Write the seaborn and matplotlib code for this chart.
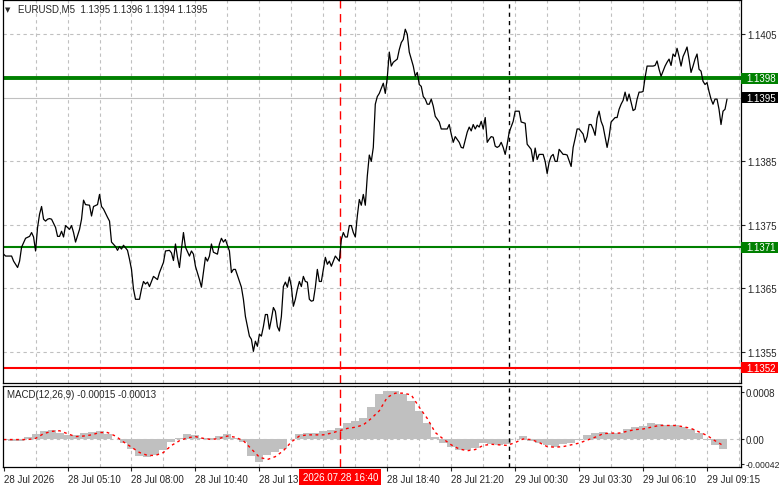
import matplotlib
matplotlib.use("Agg")
import matplotlib.pyplot as plt
import matplotlib.transforms as mtransforms
from matplotlib.patches import Rectangle
import seaborn as sns
import pandas as pd

# EURUSD M5 closes, bar index -> price
price_bar = [
    0, 1, 3, 4, 5, 7, 8, 9, 11, 13,
    14, 15, 16, 17, 18, 19, 20, 21, 22, 23,
    24, 26, 27, 28, 29, 30, 31, 33, 34, 35,
    36, 38, 39, 40, 41, 43, 44, 45, 47, 48,
    49, 50, 52, 53, 54, 56, 57, 58, 59, 60,
    62, 63, 64, 65, 66, 68, 69, 70, 71, 72,
    73, 74, 75, 77, 78, 80, 81, 83, 84, 85,
    86, 87, 88, 89, 90, 91, 93, 94, 95, 96,
    98, 99, 100, 101, 102, 103, 104, 105, 107, 108,
    109, 110, 111, 113, 114, 115, 116, 118, 119, 120,
    121, 123, 124, 125, 126, 127, 128, 129, 130, 131,
    132, 133, 134, 135, 136, 137, 138, 139, 140, 141,
    142, 143, 144, 145, 146, 147, 148, 149, 150, 151,
    152, 153, 154, 155, 156, 157, 158, 159, 160, 161,
    162, 163, 164, 165, 166, 168, 169, 170, 171, 172,
    173, 174, 175, 176, 177, 178, 179, 180, 181, 182,
    183, 184, 185, 186, 187, 188, 189, 190, 191, 192,
    193, 194, 195, 197, 198, 199, 200, 201, 202, 203,
    205, 206, 207, 208, 209, 210, 211, 212, 213, 214,
    215, 216, 218, 219, 220, 222, 223, 224, 225, 226,
    228, 229, 230, 232, 233, 234, 235, 236, 237, 238,
    239, 240, 241, 242, 243, 244, 245, 246, 247, 248,
    249, 250, 251, 252, 253, 255, 256, 258, 259, 261,
    262, 264, 265, 266, 267, 268, 270, 271, 272, 273,
    274, 275, 276, 277, 278, 280, 281, 282, 284, 285,
    286, 287, 288, 290, 291, 292, 293, 294, 295, 296,
    297, 298, 299, 300, 302, 303, 304, 306, 307, 308,
    309, 310, 311, 312, 313, 314, 315, 316, 317, 318,
    319, 320, 321, 322, 323, 325, 326, 327, 328, 329,
    330, 331, 332, 333, 334, 335, 336, 337, 338, 339,
    340, 341, 342, 343, 344, 345, 346, 347, 348, 349,
    350, 351, 352, 353, 354, 355, 356, 357, 358, 359,
    360, 361, 362,
]
price_close = [
    1.13704, 1.13701, 1.13701, 1.13701, 1.13693, 1.13683, 1.13693, 1.13715, 1.13729, 1.13732,
    1.13738, 1.13731, 1.13709, 1.13746, 1.13767, 1.13779, 1.13759, 1.13756, 1.13759, 1.13760,
    1.13759, 1.13746, 1.13732, 1.13732, 1.13740, 1.13731, 1.13749, 1.13743, 1.13749, 1.13738,
    1.13723, 1.13743, 1.13759, 1.13789, 1.13782, 1.13781, 1.13764, 1.13779, 1.13782, 1.13798,
    1.13779, 1.13775, 1.13762, 1.13756, 1.13723, 1.13716, 1.13710, 1.13716, 1.13712, 1.13718,
    1.13710, 1.13696, 1.13680, 1.13649, 1.13633, 1.13633, 1.13649, 1.13661, 1.13657, 1.13660,
    1.13653, 1.13661, 1.13669, 1.13664, 1.13675, 1.13691, 1.13709, 1.13710, 1.13706, 1.13694,
    1.13720, 1.13699, 1.13683, 1.13712, 1.13738, 1.13715, 1.13701, 1.13709, 1.13704, 1.13685,
    1.13664, 1.13652, 1.13675, 1.13699, 1.13693, 1.13701, 1.13720, 1.13707, 1.13704, 1.13720,
    1.13729, 1.13723, 1.13727, 1.13709, 1.13675, 1.13680, 1.13680, 1.13661, 1.13652, 1.13633,
    1.13606, 1.13575, 1.13570, 1.13551, 1.13567, 1.13559, 1.13578, 1.13575, 1.13590, 1.13609,
    1.13609, 1.13586, 1.13602, 1.13620, 1.13614, 1.13590, 1.13583, 1.13606, 1.13653, 1.13660,
    1.13652, 1.13668, 1.13653, 1.13622, 1.13633, 1.13649, 1.13661, 1.13653, 1.13669, 1.13661,
    1.13660, 1.13633, 1.13630, 1.13631, 1.13652, 1.13680, 1.13661, 1.13661, 1.13680, 1.13699,
    1.13688, 1.13693, 1.13685, 1.13693, 1.13701, 1.13693, 1.13727, 1.13738, 1.13731, 1.13731,
    1.13749, 1.13749, 1.13738, 1.13731, 1.13764, 1.13790, 1.13781, 1.13798, 1.13781, 1.13827,
    1.13860, 1.13850, 1.13872, 1.13940, 1.13952, 1.13957, 1.13965, 1.13973, 1.13957, 1.13982,
    1.14022, 1.14000, 1.14006, 1.14011, 1.14026, 1.14037, 1.14042, 1.14058, 1.14050, 1.14022,
    1.14000, 1.13984, 1.13990, 1.13971, 1.13968, 1.13952, 1.13948, 1.13940, 1.13940, 1.13948,
    1.13937, 1.13921, 1.13912, 1.13901, 1.13901, 1.13901, 1.13908, 1.13893, 1.13880, 1.13889,
    1.13880, 1.13872, 1.13871, 1.13896, 1.13904, 1.13898, 1.13908, 1.13901, 1.13907, 1.13904,
    1.13913, 1.13901, 1.13919, 1.13880, 1.13885, 1.13889, 1.13888, 1.13874, 1.13872, 1.13874,
    1.13880, 1.13872, 1.13861, 1.13877, 1.13896, 1.13913, 1.13929, 1.13929, 1.13912, 1.13910,
    1.13877, 1.13869, 1.13850, 1.13871, 1.13853, 1.13861, 1.13861, 1.13850, 1.13831, 1.13849,
    1.13858, 1.13861, 1.13850, 1.13850, 1.13869, 1.13861, 1.13861, 1.13860, 1.13842, 1.13872,
    1.13886, 1.13901, 1.13901, 1.13893, 1.13880, 1.13889, 1.13908, 1.13908, 1.13901, 1.13891,
    1.13918, 1.13929, 1.13913, 1.13905, 1.13872, 1.13889, 1.13912, 1.13919, 1.13919, 1.13932,
    1.13940, 1.13946, 1.13959, 1.13945, 1.13956, 1.13943, 1.13930, 1.13932, 1.13948, 1.13959,
    1.13959, 1.13960, 1.13982, 1.14000, 1.14000, 1.14000, 1.14001, 1.14008, 1.13995, 1.13984,
    1.13992, 1.14000, 1.14006, 1.14011, 1.14001, 1.14019, 1.14015, 1.14028, 1.14015, 1.14000,
    1.14015, 1.14022, 1.14030, 1.14011, 1.13990, 1.14000, 1.14011, 1.14019, 1.13995, 1.13992,
    1.13976, 1.13971, 1.13974, 1.13960, 1.13948, 1.13940, 1.13948, 1.13948, 1.13932, 1.13908,
    1.13929, 1.13932, 1.13948,
]

# MACD(12,26,9), read every 4th bar
macd_bar = list(range(0, 361, 4))
macd_hist = [
    -0.00001, -0.00003, -0.00003, 0.00003, 0.00009, 0.00014, 0.00015, 0.00010, 0.00007, 0.00006,
    0.00010, 0.00012, 0.00013, 0.00009, 0.0, -0.00006, -0.00017, -0.00029, -0.00031, -0.00028,
    -0.00018, -0.00005, 0.00002, 0.00009, 0.00006, 0.00001, 0.00002, 0.00005, 0.00008, 0.00002,
    -0.00005, -0.00029, -0.00040, -0.00028, -0.00022, -0.00017, 0.0, 0.00008, 0.00010, 0.00010,
    0.00014, 0.00016, 0.00018, 0.00028, 0.00030, 0.00035, 0.00054, 0.00077, 0.00082, 0.00081,
    0.00077, 0.00065, 0.00048, 0.00028, 0.00003, -0.00007, -0.00014, -0.00018, -0.00019, -0.00015,
    -0.00006, -0.00009, -0.00010, -0.00009, 0.0, 0.00005, -0.00003, -0.00006, -0.00011, -0.00013,
    -0.00009, -0.00006, -0.00002, 0.00006, 0.00010, 0.00012, 0.00010, 0.00011, 0.00017, 0.00020,
    0.00022, 0.00027, 0.00026, 0.00023, 0.00023, 0.00021, 0.00017, 0.00010, -0.00001, -0.00010,
    -0.00017,
]
macd_signal = [
    -0.00001, -0.00001, -0.00001, -0.00001, 0.00001, 0.00009, 0.00013, 0.00014, 0.00009, 0.00004,
    0.00005, 0.00007, 0.00011, 0.00011, 0.00005, -0.00005, -0.00014, -0.00023, -0.00028, -0.00028,
    -0.00023, -0.00011, -0.00003, 0.00002, 0.00004, 0.00001, -0.00001, 0.00001, 0.00005, 0.00003,
    -0.00003, -0.00017, -0.00031, -0.00035, -0.00030, -0.00020, -0.00005, 0.00005, 0.00007, 0.00007,
    0.00007, 0.00010, 0.00014, 0.00018, 0.00020, 0.00024, 0.00035, 0.00048, 0.00071, 0.00078,
    0.00078, 0.00075, 0.00054, 0.00035, 0.00011, 0.0, -0.00010, -0.00017, -0.00020, -0.00018,
    -0.00011, -0.00009, -0.00010, -0.00011, -0.00006, 0.0, -0.00001, -0.00006, -0.00013, -0.00014,
    -0.00013, -0.00010, -0.00007, -0.00002, 0.00003, 0.00009, 0.00010, 0.00010, 0.00013, 0.00016,
    0.00017, 0.00020, 0.00023, 0.00023, 0.00023, 0.00021, 0.00018, 0.00012, 0.00006, -0.00003,
    -0.00011,
]

tick_bars = [0, 32, 64, 96, 128, 192, 224, 256, 288, 320, 352]
tick_labels = ["28 Jul 2026", "28 Jul 05:10", "28 Jul 08:00", "28 Jul 10:40", "28 Jul 13:20",
               "28 Jul 18:40", "28 Jul 21:20", "29 Jul 00:30", "29 Jul 03:30", "29 Jul 06:10",
               "29 Jul 09:15"]
price_ticks = [1.1405, 1.1385, 1.1375, 1.1365, 1.1355]
macd_ticks = [0.0008, 0.0, -0.00042]
macd_tick_labels = ["0.0008", "0.00", "-0.00042"]

# horizontal levels: value, label, colour, line width
levels = [1.13981, 1.13715, 1.13525]
level_labels = ["1.1398", "1.1371", "1.1352"]
level_colors = ["#008000", "#008000", "#ff0000"]
level_widths = [2.8, 1.5, 1.5]
bid = 1.1395
cursor_bar = 168.5
cursor_label = "2026.07.28 16:40"
day_bar = 253

sns.set_style("white")
plt.rcParams["font.family"] = ["Liberation Sans", "DejaVu Sans"]
plt.rcParams["font.size"] = 7
plt.rcParams["axes.unicode_minus"] = False

W, H = 781, 489
fig = plt.figure(figsize=(W / 100, H / 100), dpi=100)
ax = fig.add_axes([3 / W, 1 - 383.5 / H, 738 / W, 382.5 / H])
ax2 = fig.add_axes([3 / W, 1 - 468 / H, 738 / W, 81.3 / H])

df = pd.DataFrame({"bar": price_bar, "close": price_close})
mdf = pd.DataFrame({"bar": macd_bar, "hist": macd_hist, "signal": macd_signal})

grid_kw = dict(color="#c0c0c0", linestyle=(0, (3, 3)), linewidth=0.8)

for a in (ax, ax2):
    a.set_xlim(-0.3, 369)
    for s in a.spines.values():
        s.set_color("black")
        s.set_linewidth(0.9)
    for b in range(16, 369, 16):
        a.axvline(b, zorder=0, **grid_kw)

# price panel
ax.set_ylim(1.13502, 1.14104)
for p in price_ticks:
    ax.axhline(p, zorder=0, **grid_kw)

for lv, c, lw in zip(levels, level_colors, level_widths):
    ax.axhline(lv, color=c, linewidth=lw, zorder=2)
ax.axhline(bid, color="#c0c0c0", linewidth=0.8, zorder=1)

sns.lineplot(data=df, x="bar", y="close", ax=ax, color="black", linewidth=0.9,
             estimator=None, zorder=3)

ax.axvline(cursor_bar, color="red", linestyle=(0, (6, 4)), linewidth=1, zorder=1)
ax.axvline(day_bar, color="black", linestyle=(0, (3, 3)), linewidth=1, zorder=1)

ax.set_xticks([])
ax.set_xlabel("")
ax.set_ylabel("")
ax.yaxis.tick_right()
ax.set_yticks(price_ticks)
ax.set_yticklabels(["%.4f" % p for p in price_ticks])
ax.tick_params(axis="y", direction="out", length=3, width=0.8, pad=1.5, labelsize=7, right=True)

blend = mtransforms.blended_transform_factory(fig.transFigure, ax.transData)
px = (1.14104 - 1.13502) / 382.5
box_vals = levels[:1] + [bid] + levels[1:]
box_text = level_labels[:1] + ["1.1395"] + level_labels[1:]
box_col = level_colors[:1] + ["black"] + level_colors[1:]
for v, t, c in zip(box_vals, box_text, box_col):
    ax.add_patch(Rectangle((741 / W, v - 5.5 * px), 37 / W, 11 * px, transform=blend,
                           facecolor=c, edgecolor="none", clip_on=False, zorder=10))
    ax.text(746 / W, v, t, transform=blend, color="white", ha="left", va="center",
            fontsize=7, clip_on=False, zorder=11)

# MACD panel
ax2.set_ylim(-0.000477, 0.000907)
ax2.axhline(0, zorder=0, **grid_kw)
ax2.bar(mdf["bar"], mdf["hist"], width=4, color="#c0c0c0", linewidth=0, zorder=1)
sns.lineplot(data=mdf, x="bar", y="signal", ax=ax2, color="red", linewidth=1,
             linestyle=(0, (2, 2.5)), estimator=None, zorder=2)
ax2.axvline(cursor_bar, color="red", linestyle=(0, (6, 4)), linewidth=1, zorder=3)
ax2.axvline(day_bar, color="black", linestyle=(0, (3, 3)), linewidth=1, zorder=3)

ax2.set_xlabel("")
ax2.set_ylabel("")
ax2.yaxis.tick_right()
ax2.set_yticks(macd_ticks)
ax2.set_yticklabels(macd_tick_labels)
ax2.tick_params(axis="y", direction="out", length=2.5, width=0.8, pad=0.5, labelsize=7, right=True)
ax2.get_yticklabels()[2].set_fontsize(6.2)
ax2.set_xticks(tick_bars)
ax2.set_xticklabels(tick_labels, ha="left")
ax2.tick_params(axis="x", direction="out", length=3, width=0.8, pad=2, labelsize=7, bottom=True)

xblend = mtransforms.blended_transform_factory(ax2.transData, fig.transFigure)
ax2.text(cursor_bar, 1 - 478 / H, cursor_label, transform=xblend, color="white",
         ha="center", va="center", fontsize=7, clip_on=False, zorder=12,
         bbox=dict(boxstyle="square,pad=0.35", facecolor="red", edgecolor="none"))

fig.text(5 / W, 1 - 10 / H, "▼", fontsize=5, va="center", ha="left", family="DejaVu Sans")
fig.text(18 / W, 1 - 10 / H, "EURUSD,M5  1.1395 1.1396 1.1394 1.1395", fontsize=7,
         va="center", ha="left")
fig.text(7 / W, 1 - 395 / H, "MACD(12,26,9) -0.00015 -0.00013", fontsize=7,
         va="center", ha="left")

fig.savefig("out.png", dpi=100, facecolor="white")
